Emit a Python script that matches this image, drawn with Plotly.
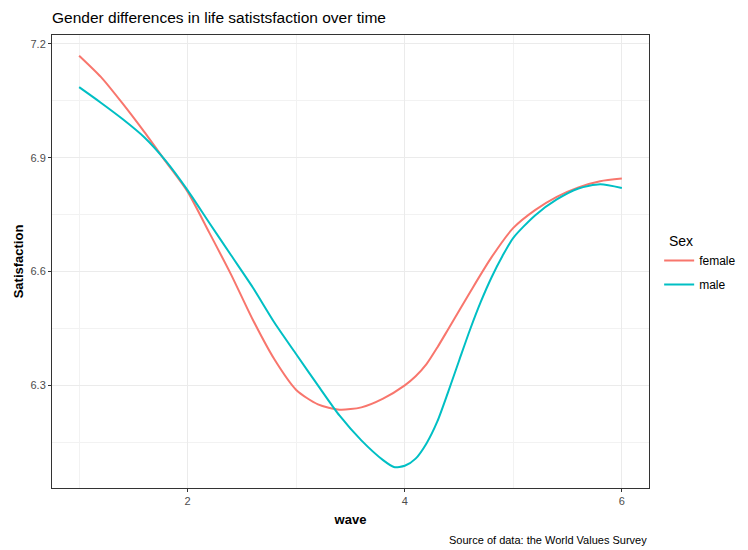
import plotly.graph_objects as go

# Data
female_wave = [1.0, 1.2, 1.4, 1.6, 1.8, 2.0, 2.2, 2.4, 2.6, 2.8, 3.0, 3.2, 3.4, 3.6, 3.8,
               4.0, 4.1, 4.2, 4.3, 4.4, 4.6, 4.8, 5.0, 5.2, 5.4, 5.6, 5.8, 6.0]
female_sat = [7.169, 7.113, 7.043, 6.968, 6.889, 6.810, 6.702, 6.592, 6.473, 6.368, 6.288,
              6.250, 6.236, 6.242, 6.265, 6.300, 6.324, 6.356, 6.400, 6.448, 6.545, 6.638,
              6.715, 6.762, 6.797, 6.822, 6.838, 6.845]

male_wave = [1.0, 1.2, 1.4, 1.6, 1.8, 2.0, 2.2, 2.4, 2.6, 2.8, 3.0, 3.2, 3.4, 3.6, 3.8,
             3.9, 4.0, 4.1, 4.2, 4.3, 4.4, 4.5, 4.6, 4.7, 4.8, 4.9, 5.0, 5.2, 5.4, 5.6, 5.8, 6.0]
male_sat = [7.086, 7.045, 7.002, 6.954, 6.891, 6.814, 6.728, 6.643, 6.558, 6.465, 6.382,
            6.300, 6.220, 6.155, 6.103, 6.085, 6.088, 6.107, 6.147, 6.205, 6.283, 6.365,
            6.446, 6.520, 6.585, 6.641, 6.689, 6.748, 6.790, 6.819, 6.830, 6.820]

x_ticks = [2, 4, 6]
y_ticks = [6.3, 6.6, 6.9, 7.2]

FONT = "Liberation Sans, Arial, sans-serif"

fig = go.Figure()
fig.add_trace(go.Scatter(x=female_wave, y=female_sat, mode="lines", name="female", legendgroup="f",
                         line=dict(color="#F8766D", width=2, shape="spline", smoothing=0.7)))
fig.add_trace(go.Scatter(x=male_wave, y=male_sat, mode="lines", name="male", legendgroup="m",
                         line=dict(color="#00BFC4", width=2, shape="spline", smoothing=0.7)))

fig.update_layout(
    width=748, height=550,
    margin=dict(l=52, r=99, t=35, b=62, autoexpand=False),
    paper_bgcolor="white", plot_bgcolor="white",
    font=dict(family=FONT, color="black"),
    title=dict(text="Gender differences in life satistsfaction over time",
               x=52/748, xref="container", xanchor="left",
               y=1-18/550, yref="container", yanchor="middle",
               font=dict(size=15.5, color="black", family=FONT)),
    legend=dict(title=dict(text="&nbsp;&nbsp;Sex", font=dict(size=14, color="black")),
                font=dict(size=12, color="black"),
                x=1.017, xanchor="left", y=0.495, yanchor="middle",
                tracegroupgap=5,
                bgcolor="rgba(0,0,0,0)", itemwidth=30),
    xaxis=dict(range=[0.75, 6.25], tickvals=x_ticks, ticktext=[str(v) for v in x_ticks],
               showgrid=True, gridcolor="#EBEBEB", gridwidth=1,
               minor=dict(tickvals=[1, 3, 5], showgrid=True, gridcolor="#F2F2F2", gridwidth=0.6, ticks=""),
               ticks="outside", ticklen=3, tickcolor="#333333",
               tickfont=dict(size=11, color="#4D4D4D"),
               showline=True, linecolor="#333333", linewidth=1, mirror=True,
               zeroline=False,
               title=dict(text="<b>wave</b>", font=dict(size=13, color="black"), standoff=8)),
    yaxis=dict(range=[6.0295, 7.2235], tickvals=y_ticks, ticktext=["%.1f" % v for v in y_ticks],
               showgrid=True, gridcolor="#EBEBEB", gridwidth=1,
               minor=dict(tickvals=[6.15, 6.45, 6.75, 7.05], showgrid=True, gridcolor="#F2F2F2", gridwidth=0.6, ticks=""),
               ticks="outside", ticklen=3, tickcolor="#333333",
               tickfont=dict(size=11, color="#4D4D4D"),
               showline=True, linecolor="#333333", linewidth=1, mirror=True,
               zeroline=False,
               title=dict(text="<b>Satisfaction</b>", font=dict(size=13, color="black"), standoff=3)),
    annotations=[dict(text="Source of data: the World Values Survey",
                      x=1, xref="paper", xanchor="right",
                      y=(488 - 540) / (488 - 35), yref="paper", yanchor="middle", showarrow=False,
                      font=dict(size=11, color="black"))],
)

fig.write_html("out.html")
